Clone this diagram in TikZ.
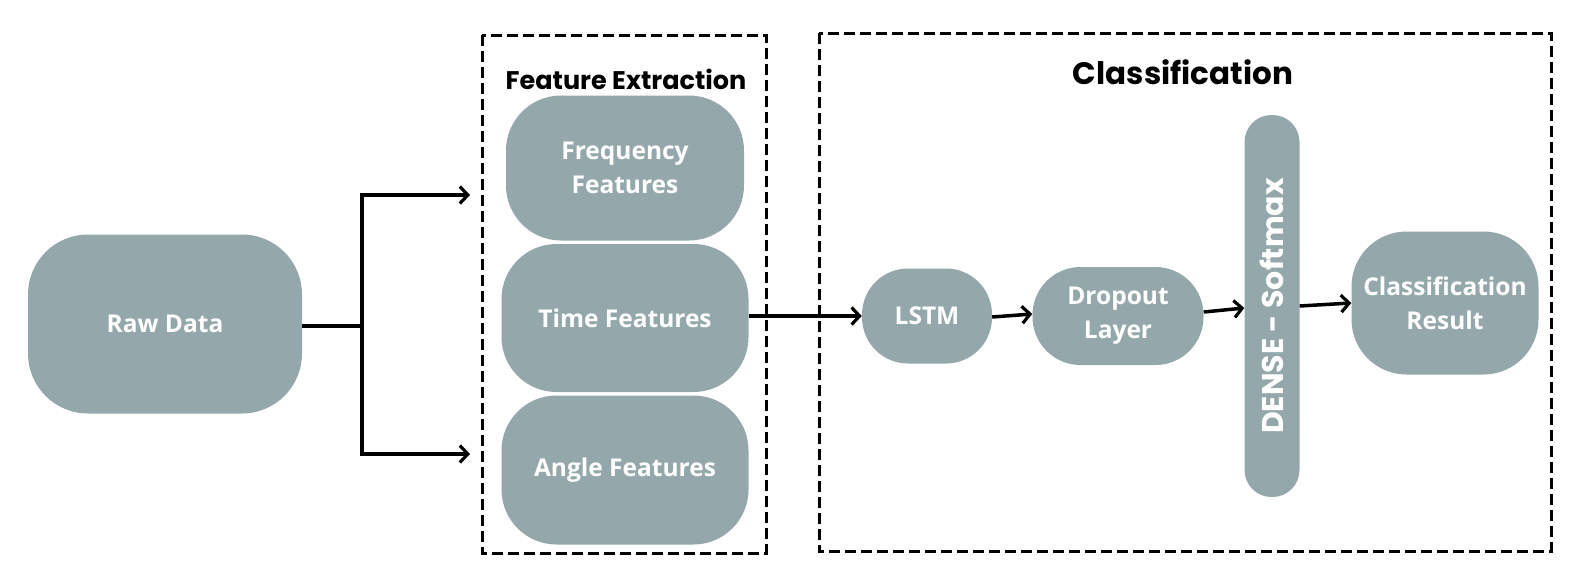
\documentclass[tikz,border=0pt]{standalone}
\usepackage{fontspec}
\setmainfont{Open Sans}
\newfontfamily\titlefont{Poppins}
\usetikzlibrary{arrows.meta}
\definecolor{boxgray}{RGB}{148,168,172}
\begin{document}
\begin{tikzpicture}[x=1pt,y=-1pt,
  blk/.style={draw=none,fill=boxgray,rounded corners=#1,text=white,inner sep=0pt,align=center,
    font=\fontsize{24.5}{34}\selectfont\bfseries},
  blk/.default=55pt,
  conn/.style={line width=3.5pt,-{Straight Barb[length=8pt,width=17pt,line width=3.2pt]}},
  plain/.style={line width=3.5pt},
  grp/.style={draw,line width=3pt,dash pattern=on 11pt off 5pt}]
\useasboundingbox (0,0) rectangle (1590,568);
% groups
\draw[grp] (482,35) rectangle (766,553);
\draw[grp] (819,33) rectangle (1551,551);
\node[font=\titlefont\fontsize{25.5}{30}\selectfont\bfseries] (fetitle) at (626,79) {Feature Extraction};
\node[font=\titlefont\fontsize{31}{36}\selectfont\bfseries] (cltitle) at (1183,72) {Classification};
% nodes
\node[blk=60pt,minimum width=274pt,minimum height=179pt] (raw) at (165,324) {Raw Data};
\node[blk,minimum width=238pt,minimum height=145pt] (freq) at (625,168) {Frequency\\Features};
\node[blk,minimum width=247pt,minimum height=148pt] (time) at (625,318) {Time Features};
\node[blk,minimum width=247pt,minimum height=149pt] (angle) at (625,470) {Angle Features};
\node[blk=46pt,minimum width=130pt,minimum height=95pt] (lstm) at (927,316) {LSTM};
\node[blk=48pt,minimum width=171pt,minimum height=98pt] (drop) at (1118,316) {Dropout\\Layer};
\node[blk=27pt,minimum width=55pt,minimum height=382pt] (dense) at (1272,306) {};
\node[rotate=90,text=white,font=\titlefont\fontsize{30}{34}\selectfont\bfseries] (densetext) at (dense.center) {DENSE - Softmax};
\node[blk,minimum width=187pt,minimum height=143pt] (res) at (1445,303) {Classification\\Result};
% connectors
\coordinate (j) at (362,326);
\coordinate (jt) at (362,195);
\coordinate (jb) at (362,454);
\coordinate (at) at (470,195);
\coordinate (ab) at (470,454);
\draw[plain] (raw.east |- j) -- (j);
\draw[plain] (jt) -- (jb);
\draw[conn] ([xshift=-1.75pt]jt) -- (at);
\draw[conn] ([xshift=-1.75pt]jb) -- (ab);
\draw[conn] (time.east |- lstm) -- (lstm.west);
\draw[conn] ([yshift=-1pt]lstm.east) -- ([yshift=2pt]drop.west);
\draw[conn] ([yshift=4pt]drop.east) -- (dense.west |- 0,308);
\draw[conn] (dense.east |- 0,306) -- (res.west);
\end{tikzpicture}
\end{document}
